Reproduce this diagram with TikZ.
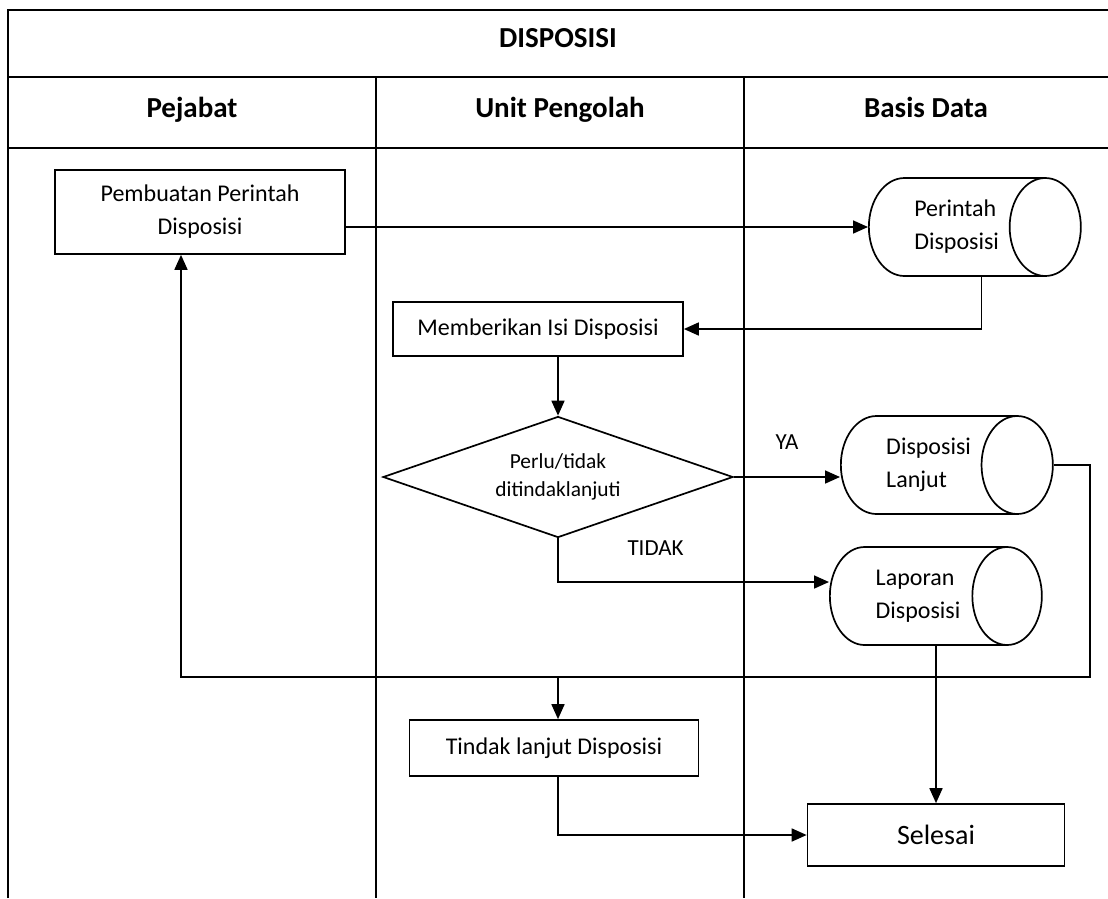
\documentclass[tikz,border=0pt]{standalone}
\usepackage{fontspec}
\setmainfont{Carlito}
\usetikzlibrary{arrows.meta, shapes.geometric}
\tikzset{
    swimlane/.style={>={Triangle[length=15pt,width=13pt]}, line width=1.7pt, x=1pt, y=-1pt},
    tabel/.style={line width=2.6pt},
    lajur/.style={line width=1.8pt},
    judul/.style={font=\fontsize{29}{35}\selectfont\bfseries, text height=0.75em, text depth=0.25em},
    proses/.style={draw, rectangle, line width=1.7pt, align=center, inner sep=0pt, font=\fontsize{24}{33}\selectfont},
    basisdata/.style={draw, cylinder, aspect=1.33, line width=1.7pt, align=left, inner sep=0pt,
        minimum width=98pt, minimum height=212pt, font=\fontsize{24}{33}\selectfont},
    keputusan/.style={draw, diamond, aspect=2.9, line width=1.7pt, align=center, inner sep=0pt,
        minimum width=350pt, minimum height=121pt, font=\fontsize{21.4}{28}\selectfont},
    ket/.style={inner sep=0pt, font=\fontsize{23}{28}\selectfont},
}
\begin{document}
\begin{tikzpicture}[swimlane]
    \useasboundingbox (0,0) rectangle (1108,898);
    % kerangka tabel
    \draw[tabel] (8,898) -- (8,10) -- (1108,10);
    \draw[tabel] (8,77) -- (1108,77);
    \draw[tabel] (8,148) -- (1108,148);
    \draw[lajur] (376,77) -- (376,898);
    \draw[lajur] (744,77) -- (744,898);

    \node[judul] (judul)   at (558,45)  {DISPOSISI};
    \node[judul] (pejabat) at (192,115) {Pejabat};
    \node[judul] (unit)    at (560,115) {Unit Pengolah};
    \node[judul] (basis)   at (926,115) {Basis Data};

    \node[proses, minimum width=290pt, minimum height=84pt] (buat) at (200,212) {Pembuatan Perintah\\Disposisi};
    \node[basisdata, anchor=west] (perintah) at (868,227) {Perintah\\Disposisi};
    \node[proses, minimum width=290pt, minimum height=54pt] (isi) at (538,329) {Memberikan Isi Disposisi};
    \node[keputusan] (cek) at (558,477) {Perlu/tidak\\ditindaklanjuti};
    \node[basisdata, anchor=west] (lanjut) at (840,465) {Disposisi\\Lanjut};
    \node[basisdata, anchor=west] (laporan) at (829,596) {Laporan\\Disposisi};
    \node[proses, minimum width=289pt, minimum height=56pt] (tindak) at (554,748) {Tindak lanjut Disposisi};
    \node[proses, font=\fontsize{28}{34}\selectfont, minimum width=257pt, minimum height=62pt] (selesai) at (936,835) {Selesai};
    \coordinate (balik) at (1090,677);

    \draw[->] (buat.east |- perintah.west) -- (perintah.west);
    \draw[->] ([xshift=25pt]perintah.south) |- (isi.east);
    \draw[->] (isi.south -| cek.north) -- (cek.north);
    \draw[->] (cek.east) -- node[ket, above=27pt] {YA} (cek.east -| lanjut.west);
    \draw[->] (cek.south) |- node[ket, pos=0.68, above=26pt] {TIDAK} ([yshift=14pt]laporan.west);

    % kembali ke pejabat
    \draw[->] (lanjut.east) -| (balik) -| ([xshift=-19pt]buat.south);
    \draw[->] (cek.south |- balik) -- (cek.south |- tindak.north);
    \draw[->] (selesai.north |- laporan.south) -- (selesai.north);
    \draw[->] (cek.south |- tindak.south) |- (selesai.west);
\end{tikzpicture}
\end{document}
